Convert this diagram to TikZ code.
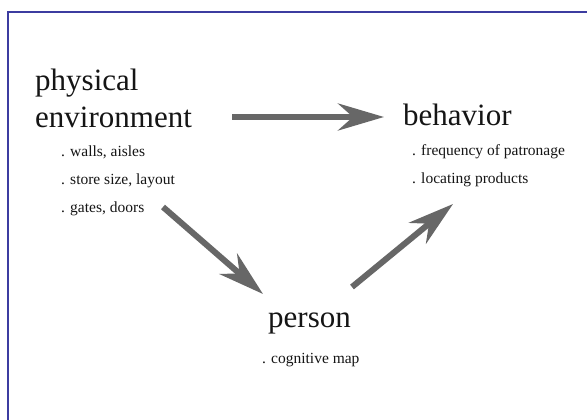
\documentclass[tikz,border=0pt]{standalone}
\usepackage{fontspec}
\setmainfont{Liberation Serif}
\usetikzlibrary{arrows.meta}
\definecolor{frameblue}{HTML}{3C3CA0}
\definecolor{arrgray}{HTML}{676767}
\definecolor{ink}{HTML}{151515}
\begin{document}
\begin{tikzpicture}[x=1pt,y=-1pt,
  big/.style={anchor=base west,inner sep=0pt,text=ink,font=\fontsize{31}{36}\selectfont},
  small/.style={anchor=base west,inner sep=0pt,text=ink,font=\fontsize{15.5}{18}\selectfont},
  arr/.style={draw=arrgray,line width=6pt,-{Stealth[length=46pt,width=27pt,inset=15pt]}}]
\useasboundingbox (0,0) rectangle (587,420);
\fill[white] (0,0) rectangle (587,420);
\draw[frameblue,line width=2pt] (7.5,430) -- (7.5,12) -- (600,12);
% nodes
\node[big] (phys1) at (35,91) {physical};
\node[big] (phys2) at (35,128) {environment};
\node[small] (p1) at (61,157) {. walls, aisles};
\node[small] (p2) at (61,184) {. store size, layout};
\node[small] (p3) at (61,212) {. gates, doors};
\node[big] (beh) at (403,125) {behavior};
\node[small] (b1) at (412,155) {. frequency of patronage};
\node[small] (b2) at (412,183) {. locating products};
\node[big] (pers) at (268,327) {person};
\node[small] (c1) at (262,363) {. cognitive map};
% arrow ends
\coordinate (a1s) at (232,117);
\coordinate (a1e) at (384,117);
\coordinate (a2s) at (163,207);
\coordinate (a2e) at (263,294);
\coordinate (a3s) at (352,287);
\coordinate (a3e) at (453,204);
\draw[arr] (a1s) -- (a1e);
\draw[arr] (a2s) -- (a2e);
\draw[arr] (a3s) -- (a3e);
\end{tikzpicture}
\end{document}
